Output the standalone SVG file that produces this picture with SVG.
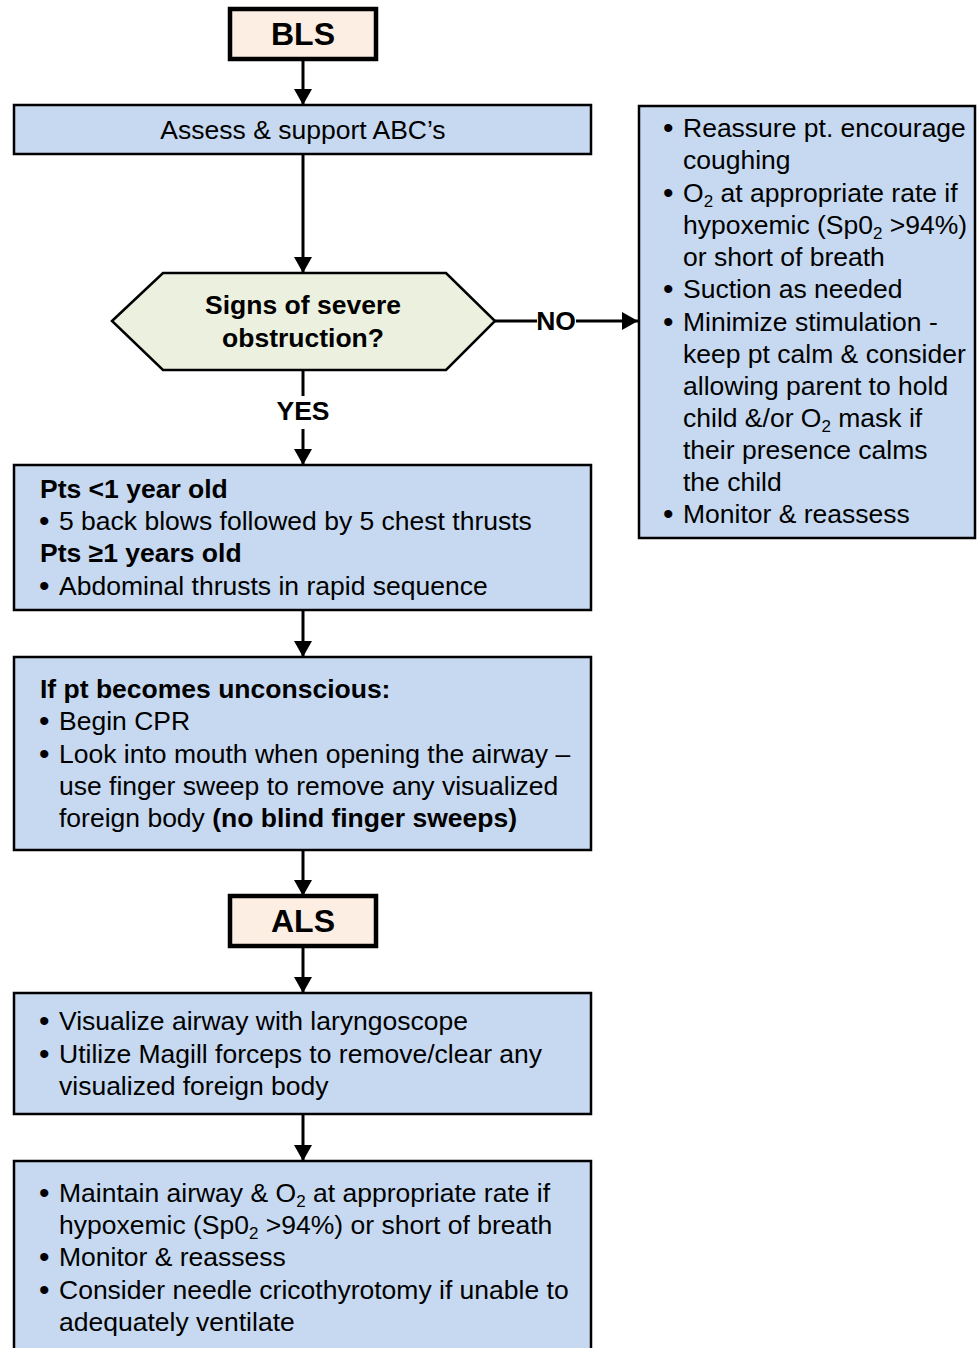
<svg xmlns="http://www.w3.org/2000/svg" width="977" height="1348" viewBox="0 0 977 1348">
<style>
.box{fill:#c6d9f0;stroke:#000;stroke-width:2.5}
.term{fill:#fdeee3;stroke:#000;stroke-width:4.5}
.dec{fill:#ebf1de;stroke:#000;stroke-width:2.5}
text{font-family:"Liberation Sans",Arial,sans-serif;font-size:26.5px;fill:#000}
.b{font-weight:bold}
.t{font-size:32px;font-weight:bold}
.c{text-anchor:middle}
.ln{stroke:#000;stroke-width:3;fill:none}
.sub{font-size:17px}
.bu{font-size:30px}
</style>
<defs>
<marker id="ah" markerWidth="16" markerHeight="18" refX="16" refY="9" orient="auto" markerUnits="userSpaceOnUse">
<path d="M0,0 L16,9 L0,18 Z" fill="#000"/>
</marker>
</defs>
<g id="connectors">
<line class="ln" x1="303" y1="59" x2="303" y2="105" marker-end="url(#ah)"/>
<line class="ln" x1="303" y1="154" x2="303" y2="273" marker-end="url(#ah)"/>
<line class="ln" x1="495" y1="321" x2="537" y2="321"/>
<line class="ln" x1="576" y1="321" x2="638" y2="321" marker-end="url(#ah)"/>
<text class="b c" x="556" y="330">NO</text>
<line class="ln" x1="303" y1="370" x2="303" y2="396"/>
<line class="ln" x1="303" y1="429" x2="303" y2="465" marker-end="url(#ah)"/>
<text class="b c" x="303" y="420">YES</text>
<line class="ln" x1="303" y1="610" x2="303" y2="657" marker-end="url(#ah)"/>
<line class="ln" x1="303" y1="850" x2="303" y2="896" marker-end="url(#ah)"/>
<line class="ln" x1="303" y1="946" x2="303" y2="993" marker-end="url(#ah)"/>
<line class="ln" x1="303" y1="1114" x2="303" y2="1161" marker-end="url(#ah)"/>
</g>
<g id="bls">
<rect class="term" x="230" y="9" width="146" height="50"/>
<text class="t c" x="303" y="45">BLS</text>
</g>
<g id="assess">
<rect class="box" x="14" y="105" width="577" height="49"/>
<text class="c" x="303" y="139">Assess &amp; support ABC’s</text>
</g>
<g id="decision">
<polygon class="dec" points="112,321 163,273 446,273 495,321 446,370 163,370"/>
<text class="b c" x="303" y="314">Signs of severe</text>
<text class="b c" x="303" y="347">obstruction?</text>
</g>
<g id="no-box">
<rect class="box" x="639" y="106" width="336" height="432"/>
<text class="bu" x="663" y="138">•</text>
<text x="683" y="137">Reassure pt. encourage</text>
<text x="683" y="169">coughing</text>
<text class="bu" x="663" y="203">•</text>
<text x="683" y="202">O<tspan class="sub" dy="5">2</tspan><tspan dy="-5"> at appropriate rate if</tspan></text>
<text x="683" y="234">hypoxemic (Sp0<tspan class="sub" dy="5">2</tspan><tspan dy="-5"> &gt;94%)</tspan></text>
<text x="683" y="266">or short of breath</text>
<text class="bu" x="663" y="299">•</text>
<text x="683" y="298">Suction as needed</text>
<text class="bu" x="663" y="332">•</text>
<text x="683" y="331">Minimize stimulation -</text>
<text x="683" y="363">keep pt calm &amp; consider</text>
<text x="683" y="395">allowing parent to hold</text>
<text x="683" y="427">child &amp;/or O<tspan class="sub" dy="5">2</tspan><tspan dy="-5"> mask if</tspan></text>
<text x="683" y="459">their presence calms</text>
<text x="683" y="491">the child</text>
<text class="bu" x="663" y="524">•</text>
<text x="683" y="523">Monitor &amp; reassess</text>
</g>
<g id="pts-box">
<rect class="box" x="14" y="465" width="577" height="145"/>
<text class="b" x="40" y="498">Pts &lt;1 year old</text>
<text class="bu" x="39" y="531">•</text>
<text x="59" y="530">5 back blows followed by 5 chest thrusts</text>
<text class="b" x="40" y="562">Pts ≥1 years old</text>
<text class="bu" x="39" y="596">•</text>
<text x="59" y="595">Abdominal thrusts in rapid sequence</text>
</g>
<g id="unconscious-box">
<rect class="box" x="14" y="657" width="577" height="193"/>
<text class="b" x="40" y="698">If pt becomes unconscious:</text>
<text class="bu" x="39" y="731">•</text>
<text x="59" y="730">Begin CPR</text>
<text class="bu" x="39" y="764">•</text>
<text x="59" y="763">Look into mouth when opening the airway –</text>
<text x="59" y="795">use finger sweep to remove any visualized</text>
<text x="59" y="827">foreign body <tspan class="b">(no blind finger sweeps)</tspan></text>
</g>
<g id="als">
<rect class="term" x="230" y="896" width="146" height="50"/>
<text class="t c" x="303" y="932">ALS</text>
</g>
<g id="visualize-box">
<rect class="box" x="14" y="993" width="577" height="121"/>
<text class="bu" x="39" y="1031">•</text>
<text x="59" y="1030">Visualize airway with laryngoscope</text>
<text class="bu" x="39" y="1064">•</text>
<text x="59" y="1063">Utilize Magill forceps to remove/clear any</text>
<text x="59" y="1095">visualized foreign body</text>
</g>
<g id="maintain-box">
<rect class="box" x="14" y="1161" width="577" height="200"/>
<text class="bu" x="39" y="1203">•</text>
<text x="59" y="1202">Maintain airway &amp; O<tspan class="sub" dy="5">2</tspan><tspan dy="-5"> at appropriate rate if</tspan></text>
<text x="59" y="1234">hypoxemic (Sp0<tspan class="sub" dy="5">2</tspan><tspan dy="-5"> &gt;94%) or short of breath</tspan></text>
<text class="bu" x="39" y="1267">•</text>
<text x="59" y="1266">Monitor &amp; reassess</text>
<text class="bu" x="39" y="1300">•</text>
<text x="59" y="1299">Consider needle cricothyrotomy if unable to</text>
<text x="59" y="1331">adequately ventilate</text>
</g>
</svg>
